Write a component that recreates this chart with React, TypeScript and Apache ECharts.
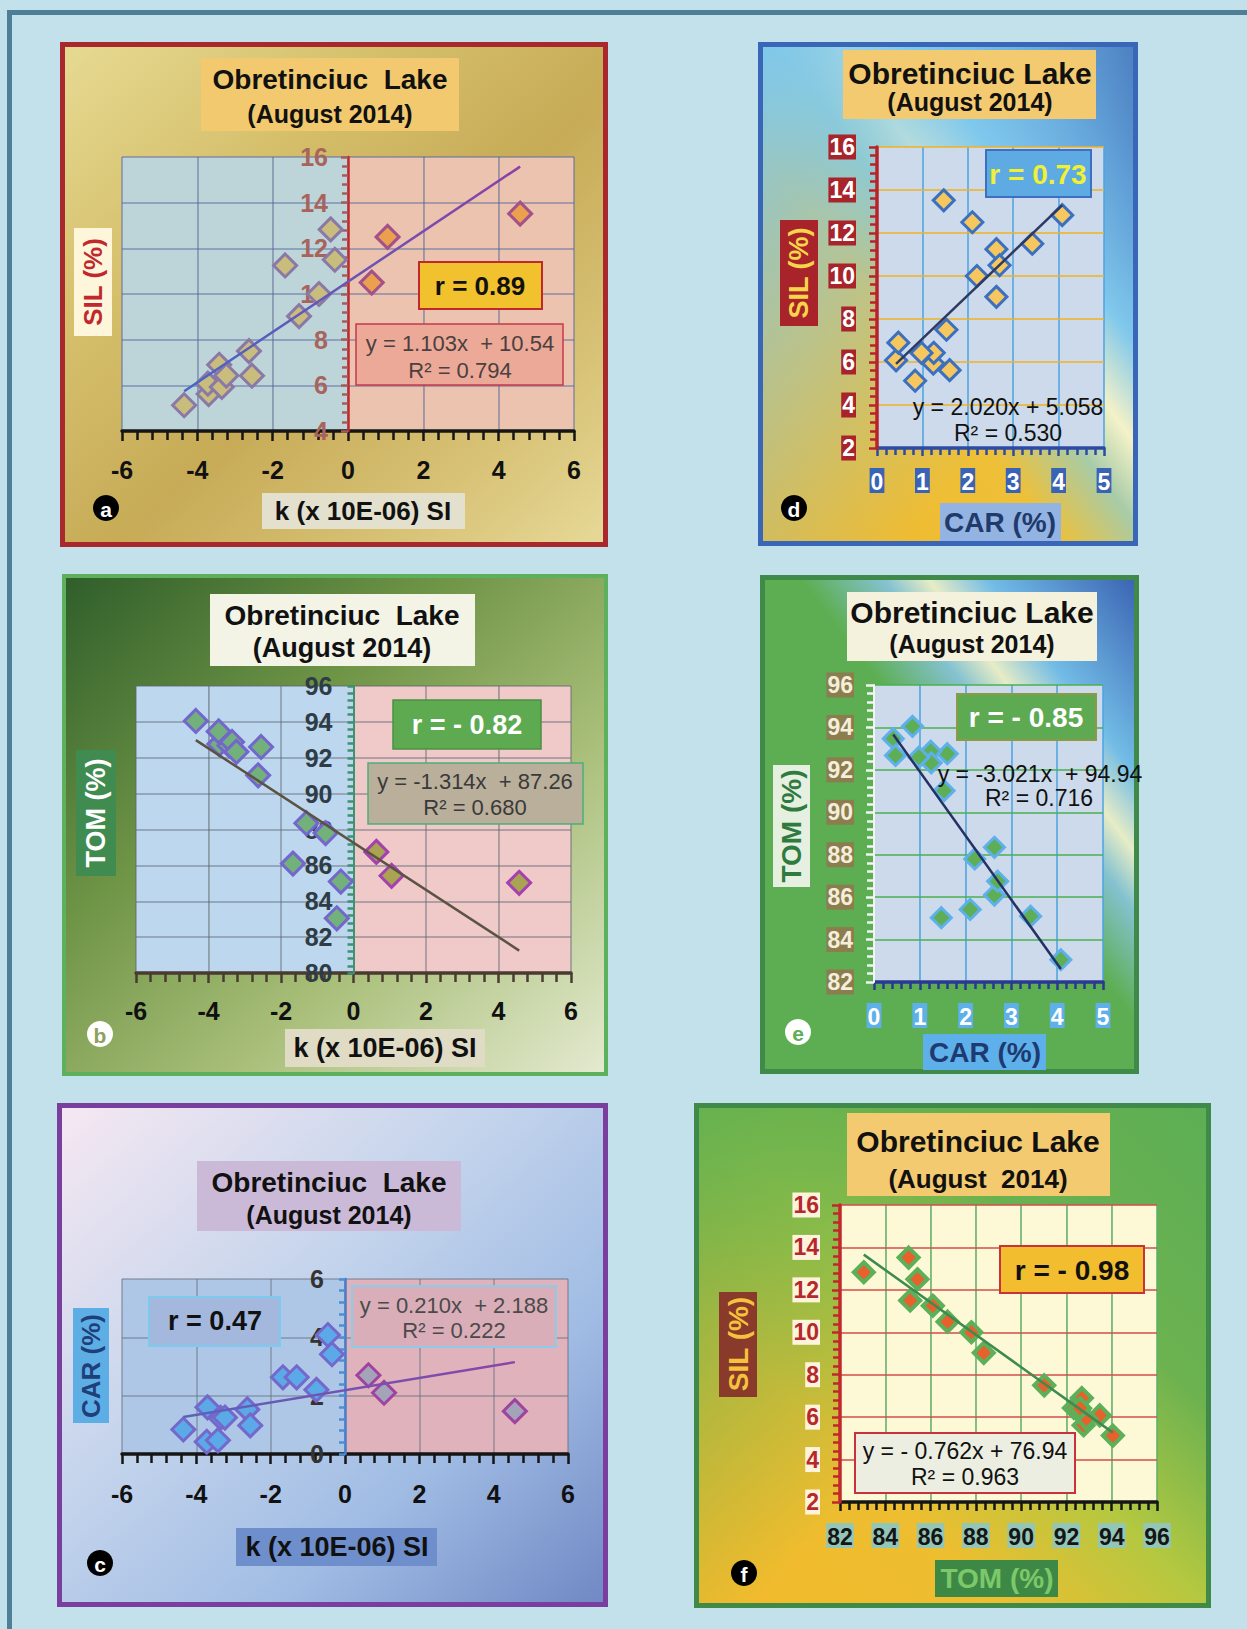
import React, { useEffect, useRef } from "react";
import * as echarts from "echarts";

// ---------------- data: 16 sediment samples, Obretinciuc Lake (August 2014) ----------------
const K_SI = [-4.35, -3.7, -3.72, -3.42, -3.35, -3.23, -2.63, -2.55, -1.67, -1.3, -0.77, -0.46, -0.35, 0.63, 1.05, 4.57];
const SIL = [5.13, 5.62, 6.08, 6.9, 5.93, 6.43, 7.5, 6.42, 11.25, 9.03, 10.0, 12.83, 11.5, 10.5, 12.5, 13.52];
const TOM = [94.05, 92.76, 93.47, 92.68, 92.88, 92.33, 91.02, 92.6, 86.1, 88.35, 87.8, 83.05, 85.1, 86.75, 85.42, 85.03];
const CAR = [0.84, 1.6, 0.42, 0.47, 1.24, 1.25, 1.53, 0.98, 2.63, 2.63, 2.2, 4.08, 3.42, 2.7, 2.1, 1.47];

// axis ranges [min, max, step]
const K_RANGE = [-6, 6, 2];
const SIL_RANGE_A = [4, 16, 2];
const TOM_RANGE_B = [80, 96, 2];
const CAR_RANGE_C = [0, 6, 2];
const CAR_RANGE_DE = [0, 5, 1];
const SIL_RANGE_DF = [2, 16, 2];
const TOM_RANGE_EF = [82, 96, 2];

// trendline end points (as drawn in the figure)
const TREND_A = [[-4.35, 5.74], [4.57, 15.58]];
const TREND_B = [[-4.35, 92.98], [4.57, 81.25]];
const TREND_C = [[-4.35, 1.27], [4.57, 3.15]];
const TREND_D = [[0.42, 5.91], [4.08, 13.3]];
const TREND_E = [[0.42, 93.67], [4.08, 82.61]];
const TREND_F = [[83.05, 13.66], [94.05, 5.27]];

const R_LABELS = ["r = 0.89", "r = - 0.82", "r = 0.47", "r = 0.73", "r = - 0.85", "r = - 0.98"];
const EQ_LABELS = ["y = 1.103x  + 10.54", "y = -1.314x  + 87.26", "y = 0.210x  + 2.188", "y = 2.020x + 5.058", "y = -3.021x  + 94.94", "y = - 0.762x + 76.94"];
const R2_LABELS = ["R² = 0.794", "R² = 0.680", "R² = 0.222", "R² = 0.530", "R² = 0.716", "R² = 0.963"];

// ---------------- helpers ----------------
const FONT = '"Liberation Sans", Arial, Helvetica, sans-serif';
const bold = (s: number) => `bold ${s}px ${FONT}`;
const reg = (s: number) => `${s}px ${FONT}`;

const pairs = (xs: number[], ys: number[]) => xs.map((x, i) => [x, ys[i]]);

const lin = (x: number, y: number, x2: number, y2: number, stops: [number, string][]) => ({
  type: "linear",
  x,
  y,
  x2,
  y2,
  global: false,
  colorStops: stops.map(([offset, color]) => ({ offset, color })),
});

function box(x: number, y: number, w: number, h: number, fill: any, stroke?: string, lw = 0, z = 10) {
  return {
    type: "rect",
    silent: true,
    z,
    shape: { x, y, width: w, height: h },
    style: stroke ? { fill, stroke, lineWidth: lw } : { fill },
  };
}

function label(x: number, y: number, text: string, font: string, fill: string, rotation = 0, z = 11) {
  return {
    type: "text",
    silent: true,
    z,
    x,
    y,
    rotation,
    style: {
      text,
      x: 0,
      y: 0,
      font,
      fill,
      align: "center",
      verticalAlign: "middle",
      textAlign: "center",
      textVerticalAlign: "middle",
    },
  };
}

function frame(x: number, y: number, w: number, h: number, fill: any, stroke: string, lw: number) {
  return {
    type: "rect",
    silent: true,
    z: -10,
    shape: { x: x + lw / 2, y: y + lw / 2, width: w - lw, height: h - lw },
    style: { fill, stroke, lineWidth: lw },
  };
}

function badge(cx: number, cy: number, letter: string, bg: string, fg: string) {
  return [
    { type: "circle", silent: true, z: 10, shape: { cx, cy, r: 13 }, style: { fill: bg } },
    label(cx, cy + 1, letter, bold(21), fg),
  ];
}

function vAxis(gridIndex: number, range: number[], o: any) {
  const tickColor = o.tickColor || o.lineColor;
  const fs = o.fontSize || 23;
  return {
    type: "value",
    gridIndex,
    min: range[0],
    max: range[1],
    interval: range[2],
    z: o.z || 0,
    offset: o.offset || 0,
    axisLine: { show: true, onZero: false, lineStyle: { color: o.lineColor, width: o.lineWidth || 3 } },
    axisTick: { show: true, inside: false, length: o.tickLen || 9, lineStyle: { color: tickColor, width: o.tickWidth || 2.5 } },
    minorTick: { show: true, splitNumber: 5, length: o.minorLen || 7, lineStyle: { color: tickColor, width: o.tickWidth || 2.5 } },
    axisLabel: {
      show: true,
      margin: o.margin,
      color: o.labelColor,
      fontSize: fs,
      fontWeight: "bold",
      fontFamily: FONT,
      backgroundColor: o.labelBg || "transparent",
      padding: o.labelBg ? [2, 1, 0, 1] : 0,
    },
    splitLine: {
      show: true,
      showMinLine: o.showMinLine !== false,
      lineStyle: { color: o.splitColor, width: o.splitWidth || 1.5 },
    },
    minorSplitLine: { show: false },
    splitArea: o.areaColors ? { show: true, areaStyle: { color: o.areaColors, opacity: 1 } } : { show: false },
  };
}

function scatter(idx: number, data: number[][], fill: string, border: string, size: number, bw = 3) {
  return {
    type: "scatter",
    xAxisIndex: idx,
    yAxisIndex: idx,
    data,
    symbol: "diamond",
    symbolSize: size,
    silent: true,
    z: 2,
    itemStyle: { color: fill, borderColor: border, borderWidth: bw, opacity: 1 },
  };
}

function trend(idx: number, data: number[][], color: any, width = 2.5) {
  return {
    type: "line",
    xAxisIndex: idx,
    yAxisIndex: idx,
    data,
    symbol: "none",
    showSymbol: false,
    silent: true,
    z: 3,
    lineStyle: { color, width },
  };
}

function buildOption() {
  const kSil = pairs(K_SI, SIL);
  const kTom = pairs(K_SI, TOM);
  const kCar = pairs(K_SI, CAR);
  const neg = (d: number[][]) => d.filter((p) => p[0] < 0);
  const pos = (d: number[][]) => d.filter((p) => p[0] >= 0);

  const gridBoxes = [
    { left: 122, top: 157, width: 452, height: 274 },
    { left: 136, top: 686, width: 435, height: 287 },
    { left: 122, top: 1279, width: 446, height: 175 },
    { left: 877, top: 147, width: 227, height: 301 },
    { left: 874, top: 685, width: 229, height: 297 },
    { left: 840, top: 1205, width: 317, height: 297 },
  ];
  const grids = gridBoxes.map((g) => ({ ...g, show: false, containLabel: false, outerBoundsMode: "none" }));
  // y axes of panels a-c sit on k = 0, i.e. halfway across the plot
  const mid = (i: number) => -gridBoxes[i].width / 2;

  const sixA = ["#BDD5D9", "#BDD5D9", "#BDD5D9", "#EBC3AE", "#EBC3AE", "#EBC3AE"];
  const sixB = ["#BDD7EF", "#BDD7EF", "#BDD7EF", "#F0C9C9", "#F0C9C9", "#F0C9C9"];
  const sixC = ["#AEC7E7", "#AEC7E7", "#AEC7E7", "#E0B2BB", "#E0B2BB", "#E0B2BB"];

  const xAxis = [
    vAxis(0, K_RANGE, { fontSize: 25, lineColor: "#151515", lineWidth: 3.5, tickLen: 10, minorLen: 9, labelColor: "#111", margin: 26, splitColor: "rgba(80,100,160,0.45)", splitWidth: 2, areaColors: sixA }),
    vAxis(1, K_RANGE, { fontSize: 25, lineColor: "#4A3B30", lineWidth: 3.5, tickLen: 10, minorLen: 9, labelColor: "#111", margin: 25, splitColor: "rgba(90,100,115,0.42)", splitWidth: 2, areaColors: sixB }),
    vAxis(2, K_RANGE, { fontSize: 25, lineColor: "#151515", lineWidth: 3.5, tickLen: 10, minorLen: 9, labelColor: "#111", margin: 27, splitColor: "rgba(100,110,125,0.42)", splitWidth: 2, areaColors: sixC }),
    vAxis(3, CAR_RANGE_DE, { lineColor: "#2E4BA3", lineWidth: 3.5, tickLen: 8, minorLen: 7, labelColor: "#FFFFFF", labelBg: "#3A62B5", margin: 20, splitColor: "#4CA3E2", areaColors: ["#CCDAEC"] }),
    vAxis(4, CAR_RANGE_DE, { lineColor: "#2A3890", lineWidth: 3.5, tickLen: 8, minorLen: 7, labelColor: "#FFFFFF", labelBg: "#5EB0EA", margin: 21, splitColor: "#4CA3E2", areaColors: ["#CCDAEC"] }),
    vAxis(5, TOM_RANGE_EF, { lineColor: "#151515", lineWidth: 3.5, tickLen: 9, minorLen: 8, labelColor: "#151515", labelBg: "#94C6B8", margin: 21, splitColor: "#5CAE6A", areaColors: ["#FDF8D5"] }),
  ];

  const yAxis = [
    vAxis(0, SIL_RANGE_A, { fontSize: 25, z: 1, offset: mid(0), lineColor: "#C0282D", lineWidth: 2.5, tickColor: "#A85A5A", tickLen: 7, minorLen: 6, labelColor: "#A8645C", margin: 20, splitColor: "rgba(80,100,160,0.45)", splitWidth: 2, showMinLine: false }),
    vAxis(1, TOM_RANGE_B, { fontSize: 25, z: 1, offset: mid(1), lineColor: "#3E9270", lineWidth: 2, tickColor: "#3E9270", tickLen: 6, minorLen: 6, labelColor: "#2E3C46", margin: 21, splitColor: "rgba(90,100,115,0.42)", splitWidth: 2, showMinLine: false }),
    vAxis(2, CAR_RANGE_C, { fontSize: 25, z: 1, offset: mid(2), lineColor: "#4A7CC8", lineWidth: 2.5, tickColor: "#4A90D8", tickLen: 6, minorLen: 6, labelColor: "#333333", margin: 21, splitColor: "rgba(100,110,125,0.42)", splitWidth: 2, showMinLine: false }),
    vAxis(3, SIL_RANGE_DF, { z: 1, lineColor: "#B8232A", lineWidth: 3.5, tickLen: 8, minorLen: 7, labelColor: "#FFFFFF", labelBg: "#A8232A", margin: 21, splitColor: "#F0B222", showMinLine: false }),
    vAxis(4, TOM_RANGE_EF, { z: 1, lineColor: "#F2F6F2", lineWidth: 2, tickLen: 8, minorLen: 7, labelColor: "#F4EEDC", labelBg: "#8C7D4E", margin: 20, splitColor: "#4CAF50", showMinLine: false }),
    vAxis(5, SIL_RANGE_DF, { z: 1, lineColor: "#C0282D", lineWidth: 3.5, tickLen: 8, minorLen: 7, labelColor: "#B5282E", labelBg: "#FDF4DB", margin: 20, splitColor: "#D24E4A", showMinLine: false }),
  ];

  const series = [
    scatter(0, neg(kSil), "#C8BD7D", "#8A79A6", 23),
    scatter(0, pos(kSil), "#EBA04E", "#A4508A", 23),
    trend(0, TREND_A, lin(0, 0, 1, 0, [[0, "#4766C4"], [0.5, "#6A54B4"], [1, "#8E3FA6"]])),

    scatter(1, neg(kTom), "#72B07C", "#7366CC", 23),
    scatter(1, pos(kTom), "#A8A452", "#A440B0", 23),
    trend(1, TREND_B, "#5B5242"),

    scatter(2, neg(kCar), "#5BA9E6", "#7468CC", 23),
    scatter(2, pos(kCar), "#A3A3BA", "#A043A0", 23),
    trend(2, TREND_C, lin(0, 0, 1, 0, [[0, "#5B62BA"], [1, "#8A44A8"]])),

    scatter(3, pairs(CAR, SIL), "#F5C75E", "#3B70C0", 21),
    trend(3, TREND_D, "#2E3A62"),

    scatter(4, pairs(CAR, TOM), "#5DAE55", "#5EB0EA", 20),
    trend(4, TREND_E, "#263062"),

    scatter(5, pairs(TOM, SIL), "#E8602C", "#5DB05A", 20, 4),
    trend(5, TREND_F, "#3F8A4F"),
  ];

  const graphics: any[] = [
    // page frame
    box(7, 10, 5, 1619, "#4F7F97", undefined, 0, -11),
    box(7, 10, 1240, 5, "#4F7F97", undefined, 0, -11),

    // ---------- panel a ----------
    frame(60, 42, 548, 505, lin(0, 0, 1, 1, [[0, "#E6DA92"], [0.3, "#D5BF6B"], [0.55, "#C7AB57"], [0.8, "#D8C276"], [1, "#E6D998"]]), "#A9282E", 5),
    box(201, 58, 258, 73, "#F2C96E"),
    label(330, 79, "Obretinciuc  Lake", bold(28), "#111111"),
    label(330, 114, "(August 2014)", bold(25), "#111111"),
    box(74, 228, 38, 108, "#FDF6DA"),
    label(93, 282, "SIL (%)", bold(26), "#C0282D", Math.PI / 2),
    box(262, 493, 203, 36, "#E4E0CE"),
    label(363, 511, "k (x 10E-06) SI", bold(26), "#111111"),
    ...badge(106, 508, "a", "#000000", "#FFFFFF"),
    box(419, 262, 123, 47, "#F2C12E", "#C0282D", 2),
    label(480, 286, R_LABELS[0], bold(26), "#111111"),
    box(356, 324, 207, 61, "#ECA997", "#C8384A", 1.5),
    label(460, 343, EQ_LABELS[0], reg(22), "#4A4040"),
    label(460, 370, R2_LABELS[0], reg(22), "#4A4040"),

    // ---------- panel b ----------
    frame(62, 574, 546, 502, lin(0, 0, 1, 1, [[0, "#2F5E2A"], [0.35, "#6E9446"], [0.65, "#A8BE78"], [1, "#E4EAD0"]]), "#5DB05C", 4),
    box(210, 594, 265, 72, "#F3F3E6"),
    label(342, 615, "Obretinciuc  Lake", bold(28), "#111111"),
    label(342, 648, "(August 2014)", bold(27), "#111111"),
    box(76, 750, 40, 126, "#3F8B50"),
    label(96, 813, "TOM (%)", bold(27), "#FFFFFF", Math.PI / 2),
    box(285, 1029, 200, 38, "#E0DBC4"),
    label(385, 1048, "k (x 10E-06) SI", bold(27), "#111111"),
    ...badge(100, 1034, "b", "#FFFFFF", "#8FA05A"),
    box(393, 700, 148, 49, "#5DAA50", "#4E8E44", 1.5),
    label(467, 725, R_LABELS[1], bold(27), "#FFFFFF"),
    box(368, 763, 215, 61, "#B9AF9A", "#4CB07A", 1.5),
    label(475, 781, EQ_LABELS[1], reg(22), "#3A3A3A"),
    label(475, 807, R2_LABELS[1], reg(22), "#3A3A3A"),

    // ---------- panel c ----------
    frame(57, 1103, 551, 504, lin(0, 0, 1, 1, [[0, "#F6E8F2"], [0.4, "#C4D4EC"], [0.7, "#A0BCE4"], [1, "#7088C4"]]), "#7A3F9E", 5),
    box(197, 1161, 264, 70, "#CABAD8"),
    label(329, 1182, "Obretinciuc  Lake", bold(28), "#111111"),
    label(329, 1215, "(August 2014)", bold(25), "#111111"),
    box(73, 1308, 36, 115, "#5EAEE6"),
    label(91, 1366, "CAR (%)", bold(26), "#1E3F7A", Math.PI / 2),
    box(236, 1528, 201, 38, "#6E8FCC"),
    label(337, 1547, "k (x 10E-06) SI", bold(27), "#111111"),
    ...badge(100, 1563, "c", "#000000", "#FFFFFF"),
    box(149, 1297, 131, 49, "#A3B8DC", "#7CCBEE", 2),
    label(215, 1321, R_LABELS[2], bold(27), "#111111"),
    box(352, 1286, 204, 61, "#D9AEB9", "#8CCBEA", 2),
    label(454, 1305, EQ_LABELS[2], reg(22), "#4A4A4A"),
    label(454, 1330, R2_LABELS[2], reg(22), "#4A4A4A"),

    // ---------- panel d ----------
    frame(758, 42, 380, 504, lin(0, 1, 1, 0, [[0, "#F0B82A"], [0.4, "#EEC038"], [0.52, "#A8CCA8"], [0.6, "#F4F2C8"], [0.7, "#80C8EC"], [0.85, "#5C9AD4"], [1, "#3A64B0"]]), "#3A66B8", 5),
    box(763, 47, 370, 494, lin(0, 0, 0.7, 0.7, [[0, "rgba(126,200,238,0.95)"], [1, "rgba(126,200,238,0)"]]), undefined, 0, -9),
    box(843, 50, 253, 69, "#F4CA70"),
    label(970, 73, "Obretinciuc Lake", bold(30), "#111111"),
    label(970, 102, "(August 2014)", bold(25), "#111111"),
    box(780, 220, 38, 106, "#A8232A"),
    label(799, 273, "SIL (%)", bold(27), "#F7D54A", Math.PI / 2),
    box(940, 503, 121, 38, "#93B3E3"),
    label(1000, 522, "CAR (%)", bold(28), "#203A6A"),
    ...badge(794, 508, "d", "#000000", "#FFFFFF"),
    box(986, 150, 105, 47, "#5EAAE2", "#3F6FC0", 2),
    label(1038, 174, R_LABELS[3], bold(28), "#F2F032"),
    label(1008, 407, EQ_LABELS[3], reg(23), "#111111"),
    label(1008, 433, R2_LABELS[3], reg(23), "#111111"),

    // ---------- panel e ----------
    frame(760, 575, 379, 499, lin(0, 1, 1, 0, [[0, "#5DAE52"], [0.55, "#5DAE52"], [0.66, "#84C2D0"], [0.72, "#E6ECC6"], [0.8, "#72BCE6"], [1, "#3A62B2"]]), "#3F8A48", 5),
    box(847, 592, 250, 69, "#F4F1DC"),
    label(972, 612, "Obretinciuc Lake", bold(30), "#111111"),
    label(972, 644, "(August 2014)", bold(25), "#111111"),
    box(773, 765, 37, 122, "#E6F0E0"),
    label(791, 826, "TOM (%)", bold(28), "#2F7A3F", Math.PI / 2),
    box(923, 1034, 123, 36, "#5EB0EA"),
    label(985, 1052, "CAR (%)", bold(28), "#1F3A70"),
    ...badge(798, 1032, "e", "#FFFFFF", "#5DAE55"),
    box(957, 694, 139, 46, "#5DAA52", "#8C9A48", 2),
    label(1026, 717, R_LABELS[4], bold(28), "#FFFFFF"),
    label(1040, 774, EQ_LABELS[4], reg(23), "#111111"),
    label(1039, 798, R2_LABELS[4], reg(23), "#111111"),

    // ---------- panel f ----------
    frame(694, 1103, 517, 505, lin(0, 1, 1, 0, [[0, "#F2BA2C"], [0.3, "#EDBE30"], [0.5, "#B4C840"], [0.7, "#6CB250"], [1, "#5CAE55"]]), "#3F8A48", 5),
    box(699, 1108, 507, 495, lin(0, 0, 0.55, 0.55, [[0, "rgba(98,176,80,0.95)"], [1, "rgba(98,176,80,0)"]]), undefined, 0, -9),
    box(847, 1113, 263, 83, "#F4CA70"),
    label(978, 1141, "Obretinciuc Lake", bold(30), "#111111"),
    label(978, 1179, "(August  2014)", bold(26), "#111111"),
    box(719, 1292, 38, 105, "#8A3A2A"),
    label(738, 1344, "SIL (%)", bold(28), "#F5C23E", Math.PI / 2),
    box(935, 1560, 123, 37, "#3E8846"),
    label(997, 1578, "TOM (%)", bold(28), "#7CC86A"),
    ...badge(744, 1573, "f", "#000000", "#FFFFFF"),
    box(1000, 1246, 144, 47, "#F2BE30", "#C8323A", 2),
    label(1072, 1270, R_LABELS[5], bold(28), "#111111"),
    box(855, 1433, 220, 60, "#EDEEE2", "#C8323A", 2),
    label(965, 1451, EQ_LABELS[5], reg(23), "#111111"),
    label(965, 1477, R2_LABELS[5], reg(23), "#111111"),
  ];

  return {
    animation: false,
    backgroundColor: "#C2E1EB",
    grid: grids,
    xAxis,
    yAxis,
    series,
    graphic: { elements: graphics },
  };
}

export default function App() {
  const ref = useRef<HTMLDivElement>(null);
  useEffect(() => {
    document.body.style.margin = "0";
    if (!ref.current) return;
    const chart = echarts.init(ref.current, null, { renderer: "svg", width: 1247, height: 1629 });
    chart.setOption(buildOption() as any);
    return () => chart.dispose();
  }, []);
  return <div ref={ref} style={{ position: "absolute", left: 0, top: 0, width: 1247, height: 1629 }} />;
}
